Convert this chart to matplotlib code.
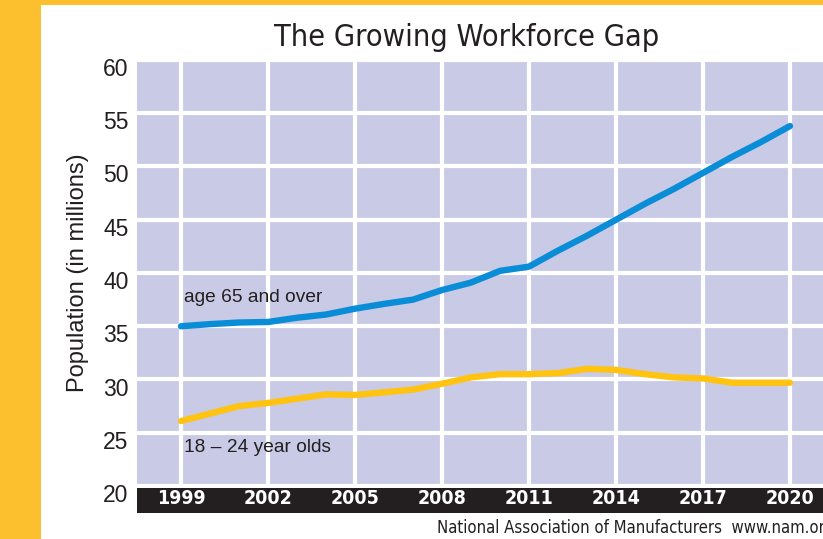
import matplotlib
matplotlib.use("Agg")
import matplotlib.pyplot as plt
import matplotlib.transforms as mtransforms
from matplotlib.patches import Rectangle

# data
years = list(range(1999, 2021))
age_65_over = [35.0, 35.2, 35.35, 35.4, 35.8, 36.1, 36.65, 37.1, 37.5, 38.4, 39.1,
               40.2, 40.6, 42.1, 43.5, 45.0, 46.5, 47.9, 49.4, 50.9, 52.3, 53.8]
age_18_24 = [26.1, 26.8, 27.5, 27.8, 28.2, 28.6, 28.55, 28.8, 29.05, 29.6, 30.2,
             30.5, 30.5, 30.6, 31.0, 30.9, 30.5, 30.2, 30.1, 29.7, 29.7, 29.7]
year_ticks = [1999, 2002, 2005, 2008, 2011, 2014, 2017, 2020]
y_ticks = [20, 25, 30, 35, 40, 45, 50, 55, 60]

orange = "#FCC02E"
lavender = "#C9CAE6"
blue = "#0A8DD7"
yellow = "#FFC310"
ink = "#231F20"

plain = ["Liberation Sans", "DejaVu Sans"]

W, H = 823, 539
fig = plt.figure(figsize=(W / 100, H / 100), dpi=100)
fig.patch.set_facecolor("white")

# orange frame on the left and top
fig.patches.append(Rectangle((0, 0), 41 / W, 1, transform=fig.transFigure,
                             facecolor=orange, edgecolor="none", zorder=0))
fig.patches.append(Rectangle((0, 1 - 5 / H), 1, 5 / H, transform=fig.transFigure,
                             facecolor=orange, edgecolor="none", zorder=0))

left = 137 / W
width = (W - 137) / W
ax = fig.add_axes([left, (H - 486) / H, width, 426 / H])
ax.set_facecolor(lavender)
for s in ax.spines.values():
    s.set_visible(False)

ax.plot(years, age_65_over, color=blue, lw=4.6, solid_capstyle="round", zorder=3)
ax.plot(years, age_18_24, color=yellow, lw=4.6, solid_capstyle="round", zorder=3)

px_per_year = 29.0
ax.set_xlim(1999 - (181 - 137) / px_per_year, 2020 + (W - 790) / px_per_year)
ax.set_ylim(20, 60)
ax.set_xticks(year_ticks)
ax.set_yticks(y_ticks)
ax.grid(True, color="white", lw=3, zorder=1)
ax.set_axisbelow(True)
ax.tick_params(axis="x", length=0, labelbottom=False)
ax.tick_params(axis="y", length=0, pad=6, labelsize=16.5, labelcolor=ink)
off = mtransforms.ScaledTranslation(0, -0.07, fig.dpi_scale_trans)
for lab in ax.get_yticklabels():
    lab.set_family(plain)
    lab.set_transform(lab.get_transform() + off)

ax.set_ylabel("Population (in millions)", fontsize=17, color=ink, family=plain, labelpad=10)

ax.text(1999.1, 37.7, "age 65 and over", fontsize=13.8, color=ink, family=plain,
        va="center", ha="left")
ax.text(1999.1, 23.6, "18 \u2013 24 year olds", fontsize=13.8, color=ink, family=plain,
        va="center", ha="left")

# black band with the year labels
band = fig.add_axes([left, (H - 513) / H, width, 25 / H], sharex=ax)
band.set_facecolor(ink)
for s in band.spines.values():
    s.set_visible(False)
band.set_yticks([])
band.tick_params(axis="x", length=0, pad=-17, labelcolor="white", labelsize=14)
for lab in band.get_xticklabels():
    lab.set_family("DejaVu Sans")
    lab.set_fontstretch("condensed")
    lab.set_fontweight("bold")

fig.text(467 / W, 1 - 37 / H, "The Growing Workforce Gap", fontsize=22, color=ink,
         family="DejaVu Sans", fontstretch="condensed", ha="center", va="center")
fig.text(437 / W, 1 - 528 / H, "National Association of Manufacturers  www.nam.org",
         fontsize=12, color=ink, family="DejaVu Sans", fontstretch="condensed",
         ha="left", va="center")

fig.savefig("out.png", dpi=100)
